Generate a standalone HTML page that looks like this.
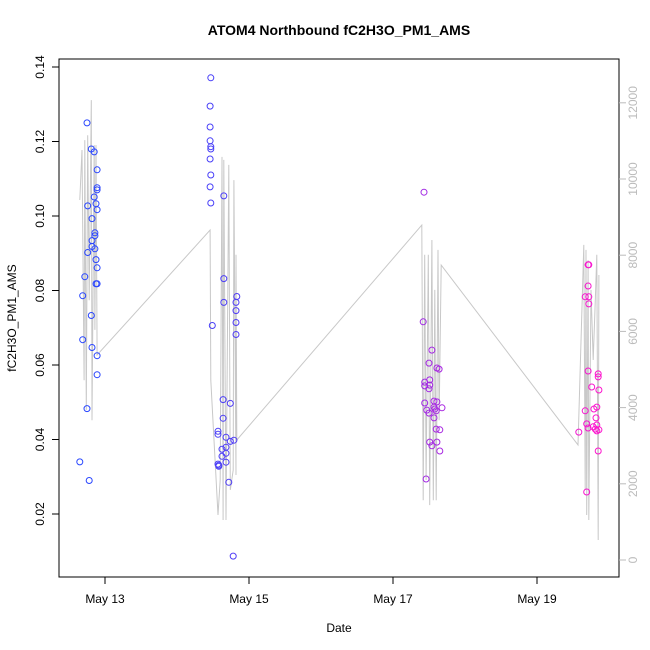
<!DOCTYPE html>
<html><head><meta charset="utf-8"><style>
html,body{margin:0;padding:0;background:#fff;}
svg{display:block;font-family:"Liberation Sans",sans-serif;}
</style></head><body>
<svg id="c" width="650" height="650" viewBox="0 0 650 650"></svg>
<script>
const ptTimes=[12.65,12.69,12.69,12.72,12.75,12.75,12.76,12.76,12.78,12.81,12.81,12.82,12.82,12.85,12.86,12.86,12.875,12.875,12.875,12.89,12.89,12.89,12.89,12.89,12.89,12.89,12.89,12.85,12.86,12.82,12.82,
14.47,14.46,14.46,14.46,14.47,14.47,14.46,14.47,14.46,14.47,14.65,14.65,14.65,14.83,14.82,14.82,14.82,14.82,14.49,14.64,14.74,14.64,14.57,14.57,14.68,14.74,14.79,14.625,14.68,14.68,14.625,14.57,14.58,14.58,14.68,14.72,14.78,
17.43,17.42,17.54,17.5,17.61,17.64,17.44,17.51,17.44,17.51,17.5,17.44,17.57,17.61,17.47,17.5,17.57,17.58,17.6,17.68,17.57,17.6,17.65,17.51,17.61,17.54,17.65,17.46,
19.71,19.72,19.71,19.67,19.72,19.72,19.71,19.85,19.85,19.76,19.86,19.67,19.79,19.83,19.82,19.58,19.69,19.71,19.78,19.81,19.83,19.83,19.86,19.85,19.69];
const ptValues=[0.0340,0.0668,0.0786,0.0837,0.1250,0.0483,0.1027,0.0902,0.0290,0.1180,0.0733,0.0918,0.0647,0.1172,0.0955,0.0912,0.0883,0.1033,0.0818,0.1124,0.1076,0.1070,0.1017,0.0861,0.0818,0.0625,0.0574,0.1051,0.0947,0.0993,0.0934,
0.1371,0.1295,0.1239,0.1202,0.1186,0.1180,0.1153,0.1110,0.1078,0.1035,0.1054,0.0832,0.0768,0.0784,0.0768,0.0746,0.0714,0.0682,0.0706,0.0507,0.0497,0.0457,0.0422,0.0414,0.0406,0.0395,0.0398,0.0374,0.0379,0.0363,0.0355,0.0334,0.0328,0.0331,0.0339,0.0285,0.0087,
0.1064,0.0716,0.0640,0.0605,0.0592,0.0589,0.0554,0.0560,0.0544,0.0546,0.0536,0.0498,0.0503,0.0501,0.0479,0.0471,0.0487,0.0482,0.0477,0.0485,0.0458,0.0428,0.0426,0.0393,0.0393,0.0383,0.0369,0.0294,
0.0869,0.0869,0.0812,0.0783,0.0783,0.0764,0.0584,0.0576,0.0568,0.0541,0.0533,0.0477,0.0482,0.0487,0.0458,0.0420,0.0442,0.0431,0.0434,0.0428,0.0439,0.0423,0.0426,0.0369,0.0259];
const lnTimes=[12.65,12.68,12.71,12.72,12.74,12.76,12.78,12.81,12.82,12.85,12.86,12.875,12.89,14.46,14.47,14.57,14.60,14.625,14.64,14.65,14.68,14.72,14.74,14.78,14.79,14.82,14.82,14.83,17.40,17.42,17.44,17.46,17.49,17.51,17.54,17.56,17.58,17.60,17.625,17.64,17.67,19.57,19.65,19.67,19.68,19.69,19.71,19.72,19.75,19.78,19.81,19.83,19.85,19.86];
const lnCounts=[9450,10760,4720,11020,3940,11150,6820,12070,3670,10890,6040,10890,5380,8660,4720,1180,2100,10580,1050,10500,1050,10370,1840,2360,9970,2230,8010,3150,8790,1570,8010,2100,8010,1440,8400,1570,7090,1570,8140,3670,7740,3020,8270,1840,8140,1180,7870,1050,7090,5250,6820,8010,525,7480];
const leftTicks=[0.02,0.04,0.06,0.08,0.10,0.12,0.14];
const leftTickLabels=["0.02","0.04","0.06","0.08","0.10","0.12","0.14"];
const rightTicks=[0,2000,4000,6000,8000,10000,12000];
const xTicks=[13,15,17,19];
const xTickLabels=["May 13","May 15","May 17","May 19"];

const X=t=>105+(t-13)*72;
const Y=v=>67+(0.14-v)*3725;
const YR=c=>560-c*0.0381;
const NS="http://www.w3.org/2000/svg";
const svg=document.getElementById('c');
function mk(tag,attrs,parent){const e=document.createElementNS(NS,tag);for(const k in attrs)e.setAttribute(k,attrs[k]);(parent||svg).appendChild(e);return e;}

const title=mk('text',{x:339,y:35,'text-anchor':'middle','font-size':14,'font-weight':'bold'});
title.textContent='ATOM4 Northbound fC2H3O_PM1_AMS';



let d='';lnTimes.forEach((t,i)=>{d+=(i?'L':'M')+X(t).toFixed(1)+','+YR(lnCounts[i]).toFixed(1);});
const ln=mk('path',{d:d,fill:'none',stroke:'#c8c8c8','stroke-width':1});



const g=mk('g',{});


ptTimes.forEach((t,i)=>{
  let f=(t-12.6)/(19.9-12.6);f=Math.max(0,Math.min(1,f));f=Math.pow(f,1.4);
  const r=Math.round(40+215*f),gg=Math.round(70-50*f),b=Math.round(255-50*f);
  const c=mk('circle',{cx:X(t).toFixed(1),cy:Y(ptValues[i]).toFixed(1),r:3,fill:'none',stroke:`rgb(${r},${gg},${b})`,'stroke-width':1},g);
  
  
});

const box=mk('rect',{x:59,y:59,width:560,height:518,fill:'none',stroke:'#000','stroke-width':1});



const la=mk('g',{});


leftTicks.forEach((v,i)=>{
  const y=Y(v);
  mk('line',{x1:52,x2:59,y1:y,y2:y,stroke:'#000'},la);
  const tx=mk('text',{x:44,y:y,'text-anchor':'middle','font-size':12,transform:`rotate(-90 44 ${y})`},la);
  tx.textContent=leftTickLabels[i];
  
  
});
const ra=mk('g',{});


rightTicks.forEach(v=>{
  const y=YR(v);
  mk('line',{x1:619,x2:626,y1:y,y2:y,stroke:'#bbb'},ra);
  const tx=mk('text',{x:637,y:y,'text-anchor':'middle','font-size':12,fill:'#bbb',transform:`rotate(-90 637 ${y})`},ra);
  tx.textContent=String(v);
  
  
});
const xa=mk('g',{});


xTicks.forEach((t,i)=>{
  const x=X(t);
  mk('line',{x1:x,x2:x,y1:577,y2:584,stroke:'#000'},xa);
  const tx=mk('text',{x:x,y:603,'text-anchor':'middle','font-size':12},xa);
  tx.textContent=xTickLabels[i];
  
  
});
const xt=mk('text',{x:339,y:632,'text-anchor':'middle','font-size':12});
xt.textContent='Date';


const yt=mk('text',{x:16,y:318,'text-anchor':'middle','font-size':12,transform:'rotate(-90 16 318)'});
yt.textContent='fC2H3O_PM1_AMS';


</script>
</body></html>
